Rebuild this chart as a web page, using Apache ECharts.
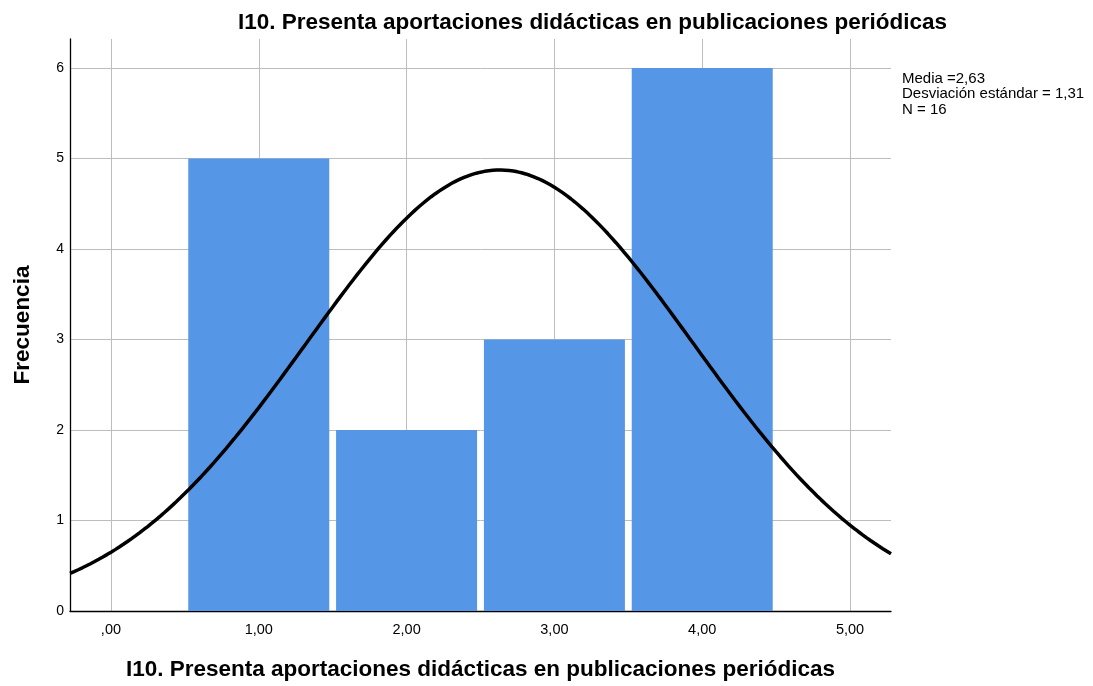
<!DOCTYPE html>
<html>
<head>
<meta charset="utf-8">
<script src="https://cdn.jsdelivr.net/npm/echarts@6/dist/echarts.min.js"></script>
<style>
  html, body { margin: 0; padding: 0; background: #fff; }
  #chart { width: 1093px; height: 686px; }
</style>
</head>
<body>
<div id="chart"></div>
<script>
// Histogram: item I10, response values and their frequencies
const categories = [1, 2, 3, 4];
const frequencies = [5, 2, 3, 6];
const xTicks = [0, 1, 2, 3, 4, 5];
const xTickLabels = [',00', '1,00', '2,00', '3,00', '4,00', '5,00'];
const yTicks = [0, 1, 2, 3, 4, 5, 6];

// Summary statistics printed beside the plot
const stats = { mean: 2.63, sd: 1.31, n: 16 };
const statLabels = ['Media =2,63', 'Desviación estándar = 1,31', 'N = 16'];

const xMin = -0.277, xMax = 5.277, yMax = 6.32;
const FONT = 'Liberation Sans, Arial, sans-serif';

// Normal curve scaled to the histogram (bin width 1)
const curve = [];
const steps = 200;
for (let i = 0; i <= steps; i++) {
  const x = xMin + (xMax - xMin) * i / steps;
  const z = (x - stats.mean) / stats.sd;
  const y = stats.n / (stats.sd * Math.sqrt(2 * Math.PI)) * Math.exp(-0.5 * z * z);
  curve.push([x, y]);
}

const chart = echarts.init(document.getElementById('chart'), null, { renderer: 'canvas' });

chart.setOption({
  animation: false,
  backgroundColor: '#ffffff',
  title: {
    text: 'I10. Presenta aportaciones didácticas en publicaciones periódicas',
    left: 233, top: 6,
    textStyle: { fontFamily: FONT, fontSize: 22.5, fontWeight: 'bold', color: '#000' }
  },
  grid: { left: 70, right: 202, top: 39, bottom: 75, containLabel: false },
  xAxis: {
    type: 'value',
    min: xMin, max: xMax,
    name: 'I10. Presenta aportaciones didácticas en publicaciones periódicas',
    nameLocation: 'middle',
    nameGap: 47,
    nameTextStyle: { fontFamily: FONT, fontSize: 22.5, fontWeight: 'bold', color: '#000' },
    axisLine: { show: true, onZero: false, lineStyle: { color: '#000', width: 1.3 } },
    axisTick: { show: false, customValues: xTicks },
    axisLabel: {
      customValues: xTicks,
      margin: 11,
      fontFamily: FONT, fontSize: 14.5, color: '#000',
      formatter: v => xTickLabels[xTicks.indexOf(Math.round(v))] || ''
    },
    splitLine: { show: false }
  },
  yAxis: {
    type: 'value',
    min: 0, max: yMax,
    name: 'Frecuencia',
    nameLocation: 'middle',
    nameGap: 36,
    nameRotate: 90,
    nameTextStyle: { fontFamily: FONT, fontSize: 22.5, fontWeight: 'bold', color: '#000' },
    axisLine: { show: true, onZero: false, lineStyle: { color: '#000', width: 1.3 } },
    axisTick: { show: false, customValues: yTicks },
    axisLabel: {
      customValues: yTicks,
      margin: 6,
      fontFamily: FONT, fontSize: 14, color: '#000'
    },
    splitLine: { show: false }
  },
  graphic: [{
    type: 'group', left: 902, top: 71,
    children: statLabels.map((t, i) => ({
      type: 'text', left: 0, top: i * 15.5,
      style: { text: t, font: '15px ' + FONT, fill: '#000' }
    }))
  }],
  series: [
    {
      // grid lines drawn at the tick positions, under the bars
      type: 'line', data: [], silent: true,
      markLine: {
        silent: true, symbol: 'none', label: { show: false }, z: 0,
        lineStyle: { color: '#bdbdbd', width: 1, type: 'solid' },
        data: xTicks.map(v => ({ xAxis: v }))
          .concat(yTicks.slice(1).map(v => ({ yAxis: v })))
      },
      z: 0
    },
    {
      type: 'bar',
      data: categories.map((c, i) => [c, frequencies[i]]),
      barWidth: 141,
      itemStyle: { color: '#5596e6' },
      z: 2
    },
    {
      type: 'line',
      data: curve,
      showSymbol: false,
      smooth: false,
      lineStyle: { color: '#000', width: 3.5 },
      z: 3
    }
  ]
});
</script>
</body>
</html>
